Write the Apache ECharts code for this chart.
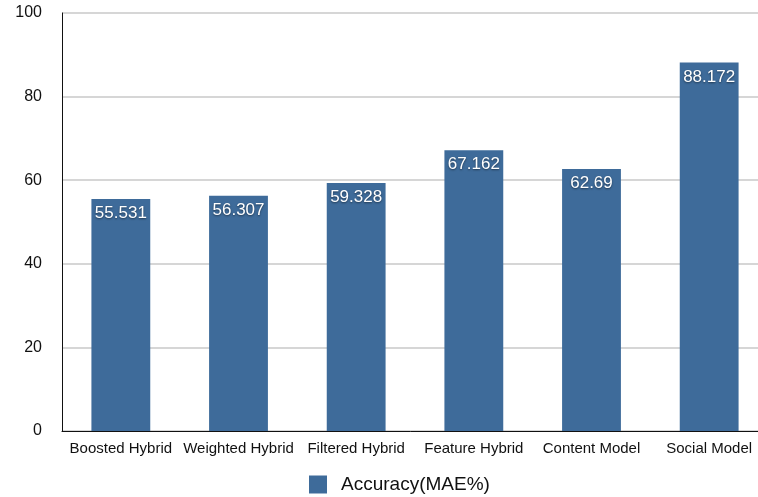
<!DOCTYPE html>
<html><head><meta charset="utf-8">
<script src="https://cdn.jsdelivr.net/npm/echarts@6/dist/echarts.min.js"></script>
<style>html,body{margin:0;padding:0;background:#fff}#c{width:758px;height:497px}</style>
</head><body><div id="c"></div>
<script>
const categories = ['Boosted Hybrid','Weighted Hybrid','Filtered Hybrid','Feature Hybrid','Content Model','Social Model'];
const values = [55.531, 56.307, 59.328, 67.162, 62.69, 88.172];
const seriesName = 'Accuracy(MAE%)';
const yTicks = {min:0, max:100, interval:20};

const chart = echarts.init(document.getElementById('c'));
chart.setOption({
  animation:false,
  textStyle:{fontFamily:'Liberation Sans, Arial, sans-serif'},
  grid:{left:62, top:13, width:706, height:418, containLabel:false, outerBoundsMode:'none'},
  legend:{top:475, left:309, padding:0, itemWidth:18, itemHeight:18, icon:'rect',
    textStyle:{fontSize:19, color:'#111', padding:[0,0,0,9]}, data:[seriesName]},
  xAxis:{type:'category', data:categories,
    axisLine:{lineStyle:{color:'#111', width:1}}, axisTick:{show:false},
    axisLabel:{fontSize:15, color:'#111', margin:10, interval:0}},
  yAxis:{type:'value', min:yTicks.min, max:yTicks.max, interval:yTicks.interval,
    axisLine:{show:true, lineStyle:{color:'#111'}}, axisTick:{show:false},
    axisLabel:{fontSize:16, color:'#111', margin:20},
    splitLine:{lineStyle:{color:'#c8c8c8', width:1.5}}},
  series:[{name:seriesName, type:'bar', data:values, barWidth:'50%',
    itemStyle:{color:'#3e6b9a'},
    label:{show:true, position:'insideTop', distance:6, color:'#fff', fontSize:17,
      textShadowColor:'rgba(0,0,0,0.5)', textShadowBlur:2, textShadowOffsetY:1}}]
});
</script></body></html>
